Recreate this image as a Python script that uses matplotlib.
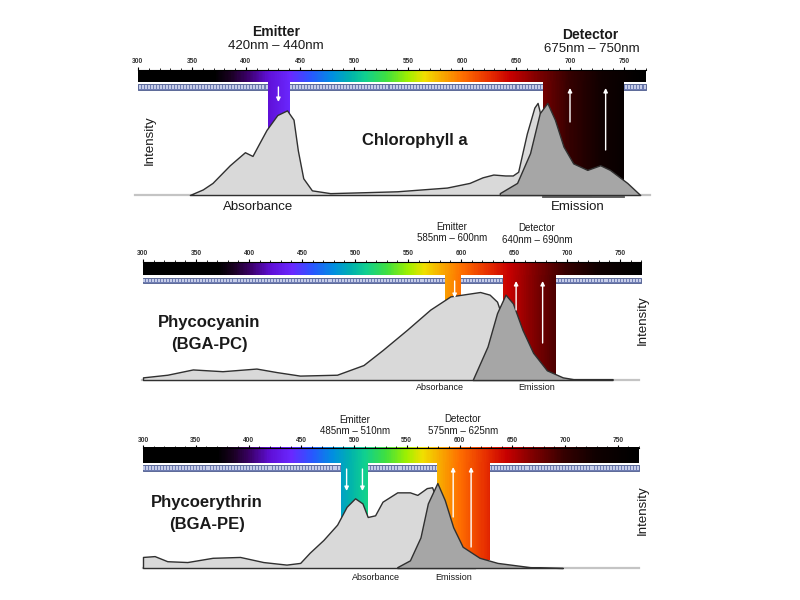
import numpy as np
import matplotlib
matplotlib.use('Agg')
import matplotlib.pyplot as plt
from matplotlib.colors import LinearSegmentedColormap, Normalize

plt.rcParams['font.family'] = ['Liberation Sans', 'DejaVu Sans']

# spectrum colours by wavelength (nm)
spec_nm = [300, 370, 385, 400, 420, 440, 460, 480, 495, 510, 530, 550, 565, 580, 600, 625, 645, 670, 700, 730, 770]
spec_col = ['#000000', '#000000', '#1a0022', '#3a0066', '#6010d8', '#6a28ff', '#2858ff', '#0090e0',
            '#00b0b0', '#10d090', '#40e040', '#a0f000', '#f0e000', '#f8b000', '#ff7000', '#e83000',
            '#c80000', '#800000', '#350000', '#100000', '#000000']
tick_major = np.arange(300, 751, 50)
tick_minor = np.arange(300, 771, 10)

# Chlorophyll a
chl_abs_nm = [348, 360, 369, 385, 399, 406, 412, 419, 429, 438, 444, 448, 453, 461, 478, 510, 540, 586, 607,
              619, 629, 640, 647, 652, 660, 667, 670, 676, 685, 700, 720]
chl_abs_i = [0, 0.06, 0.13, 0.32, 0.46, 0.42, 0.55, 0.70, 0.86, 0.91, 0.81, 0.48, 0.18, 0.05, 0.02, 0.03, 0.04,
             0.08, 0.13, 0.19, 0.22, 0.21, 0.21, 0.25, 0.66, 0.94, 0.99, 0.70, 0.30, 0.10, 0.0]
chl_em_nm = [635, 651, 663, 672, 679, 686, 694, 703, 716, 728, 737, 753, 765]
chl_em_i = [0.02, 0.13, 0.45, 0.88, 0.99, 0.81, 0.52, 0.34, 0.27, 0.32, 0.27, 0.13, 0.0]

# Phycocyanin
pc_abs_nm = [300, 300, 323, 347, 375, 407, 426, 448, 483, 508, 526, 549, 571, 590, 618, 627, 634, 645, 655, 665]
pc_abs_i = [0, 0.03, 0.06, 0.12, 0.10, 0.13, 0.09, 0.05, 0.06, 0.17, 0.34, 0.57, 0.80, 0.95, 1.0, 0.97, 0.89,
            0.50, 0.15, 0.0]
pc_em_nm = [611, 625, 634, 642, 649, 658, 668, 681, 696, 706, 743]
pc_em_i = [0, 0.38, 0.76, 0.97, 0.87, 0.57, 0.31, 0.11, 0.03, 0.01, 0.01]

# Phycoerythrin
pe_abs_nm = [300, 300, 311, 323, 342, 366, 392, 414, 436, 449, 458, 471, 484, 493, 501, 508, 513, 520, 527,
             541, 553, 560, 569, 574, 585, 600, 615]
pe_abs_i = [0, 0.13, 0.14, 0.08, 0.07, 0.12, 0.13, 0.07, 0.04, 0.06, 0.18, 0.33, 0.51, 0.72, 0.82, 0.76,
            0.60, 0.62, 0.78, 0.89, 0.89, 0.86, 0.94, 0.95, 0.6, 0.2, 0.0]
pe_em_nm = [541, 553, 563, 570, 579, 586, 594, 603, 619, 636, 667, 698]
pe_em_i = [0.01, 0.09, 0.36, 0.76, 1.0, 0.80, 0.48, 0.25, 0.12, 0.06, 0.01, 0.0]

cmap = LinearSegmentedColormap.from_list(
    'spec', [((n - 300) / 470, c) for n, c in zip(spec_nm, spec_col)])
norm = Normalize(300, 770)

fig = plt.figure(figsize=(8, 6), dpi=100)


def make_ax(p0, k, top, bottom, pb, s):
    ax = fig.add_axes([130 / 800, 1 - bottom / 600, 530 / 800, (bottom - top) / 600])
    ax.set_xlim(300 + (130 - p0) / k, 300 + (660 - p0) / k)
    ax.set_ylim((pb - bottom) / s, (pb - top) / s)
    ax.axis('off')
    return ax, (lambda py: (pb - py) / s)


def spectrum_bar(ax, Y, lab, tk, btop, bbot, stop, sbot):
    ax.imshow(np.linspace(300, 770, 600)[None, :], extent=(300, 770, Y(bbot), Y(btop)),
              cmap=cmap, norm=norm, aspect='auto', zorder=2)
    ax.fill_between([300, 770], Y(sbot), Y(stop), facecolor='#6f7db3', edgecolor='#4f5d8f', lw=0.6, zorder=2)
    ax.vlines(np.arange(301.4, 769, 2.8), Y(sbot - 1), Y(stop + 1), color='#d8def5', lw=1.2, zorder=2.1)
    ax.plot([300, 770], [Y(btop), Y(btop)], color='black', lw=0.8, zorder=2.2)
    ax.vlines(tick_minor, Y(btop), Y(btop - 2.5), color='black', lw=0.6, zorder=2.2)
    ax.vlines(tick_major, Y(btop), Y(btop - 3.5), color='black', lw=0.8, zorder=2.2)
    for t in tick_major:
        ax.text(t, Y(lab), str(t), fontsize=4.8, fontweight='bold', color='#333', ha='center', va='center')


def band(ax, lo, hi, ybot, ytop):
    ax.imshow(np.linspace(lo, hi, 60)[None, :], extent=(lo, hi, ybot, ytop),
              cmap=cmap, norm=norm, aspect='auto', zorder=2.5)


def arrow(ax, x, y0, y1):
    ax.annotate('', xy=(x, y1), xytext=(x, y0),
                arrowprops=dict(arrowstyle='-|>', color='white', lw=1.0, mutation_scale=6,
                                shrinkA=0, shrinkB=0), zorder=6)


def curves(ax, anm, ai, enm, ei, base0, base1):
    ax.plot([base0, base1], [0, 0], color='#c4c4c4', lw=1.6, zorder=2.6)
    ax.fill_between(anm, 0, ai, facecolor='#d9d9d9', edgecolor='#303030', lw=1.0, zorder=3)
    ax.fill_between(enm, 0, ei, facecolor='#a6a6a6', edgecolor='#303030', lw=1.0, zorder=4)


def ftext(px, py, s, **kw):
    fig.text(px / 800, 1 - py / 600, s, ha='center', va='center', color='#1a1a1a', **kw)


# ---- panel 1 : chlorophyll a
ax1, Y1 = make_ax(138, 1.08, 15, 215, 195, 93)
spectrum_bar(ax1, Y1, 61, 67, 70, 82, 84, 90)
band(ax1, 420, 440, 0.6, Y1(82))
band(ax1, 675, 750, 0.16, Y1(82))
curves(ax1, chl_abs_nm, chl_abs_i, chl_em_nm, chl_em_i, 297, 774)
ax1.plot([675, 750], [-0.025, -0.025], color='#555555', lw=1.3, zorder=3)
arrow(ax1, 430, Y1(87), Y1(102))
arrow(ax1, 700, Y1(122), Y1(88))
arrow(ax1, 733, Y1(150), Y1(88))
ftext(276, 32, 'Emitter', fontsize=10, fontweight='bold')
ftext(276, 46, '420nm \u2013 440nm', fontsize=9.5)
ftext(590, 35, 'Detector', fontsize=10, fontweight='bold')
ftext(592, 49, '675nm \u2013 750nm', fontsize=9.5)
ftext(415, 141, 'Chlorophyll a', fontsize=12, fontweight='bold')
ftext(150, 140, 'Intensity', fontsize=9.5, rotation=90)
ftext(258, 207, 'Absorbance', fontsize=9.5)
ftext(578, 207, 'Emission', fontsize=9.5)

# ---- panel 2 : phycocyanin
ax2, Y2 = make_ax(143, 1.06, 215, 395, 380, 88)
spectrum_bar(ax2, Y2, 253, 258, 262, 275, 278, 283)
band(ax2, 585, 600, 0.85, Y2(275))
band(ax2, 640, 690, 0.0, Y2(275))
curves(ax2, pc_abs_nm, pc_abs_i, pc_em_nm, pc_em_i, 299, 768)
arrow(ax2, 594, Y2(281), Y2(298))
arrow(ax2, 652, Y2(310), Y2(281))
arrow(ax2, 677, Y2(343), Y2(281))
ftext(452, 227, 'Emitter', fontsize=7)
ftext(452, 238, '585nm \u2013 600nm', fontsize=7)
ftext(537, 228, 'Detector', fontsize=7)
ftext(537, 240, '640nm \u2013 690nm', fontsize=7)
ftext(209, 322, 'Phycocyanin', fontsize=12, fontweight='bold')
ftext(209, 344, '(BGA-PC)', fontsize=12, fontweight='bold')
ftext(643, 320, 'Intensity', fontsize=9.5, rotation=90)
ftext(440, 388, 'Absorbance', fontsize=6.5)
ftext(537, 388, 'Emission', fontsize=6.5)

# ---- panel 3 : phycoerythrin
ax3, Y3 = make_ax(143, 1.055, 405, 590, 568, 85)
spectrum_bar(ax3, Y3, 440, 445, 448, 463, 465, 471)
band(ax3, 488, 513, 0.55, Y3(463))
band(ax3, 579, 629, 0.09, Y3(463))
curves(ax3, pe_abs_nm, pe_abs_i, pe_em_nm, pe_em_i, 300, 770)
arrow(ax3, 493, Y3(469), Y3(491))
arrow(ax3, 508, Y3(469), Y3(491))
arrow(ax3, 594, Y3(517), Y3(467))
arrow(ax3, 611, Y3(547), Y3(467))
ftext(355, 420, 'Emitter', fontsize=7)
ftext(355, 431, '485nm \u2013 510nm', fontsize=7)
ftext(463, 419, 'Detector', fontsize=7)
ftext(463, 431, '575nm \u2013 625nm', fontsize=7)
ftext(207, 503, 'Phycoerythrin', fontsize=12, fontweight='bold')
ftext(207, 525, '(BGA-PE)', fontsize=12, fontweight='bold')
ftext(643, 510, 'Intensity', fontsize=9.5, rotation=90)
ftext(376, 577, 'Absorbance', fontsize=6.5)
ftext(454, 577, 'Emission', fontsize=6.5)

# imshow resets limits, put them back
for ax, geo in ((ax1, (138, 1.08, 15, 215, 195, 93)), (ax2, (143, 1.06, 215, 395, 380, 88)),
                (ax3, (143, 1.055, 405, 590, 568, 85))):
    p0, k, top, bottom, pb, s = geo
    ax.set_xlim(300 + (130 - p0) / k, 300 + (660 - p0) / k)
    ax.set_ylim((pb - bottom) / s, (pb - top) / s)

fig.savefig('out.png', dpi=100)
